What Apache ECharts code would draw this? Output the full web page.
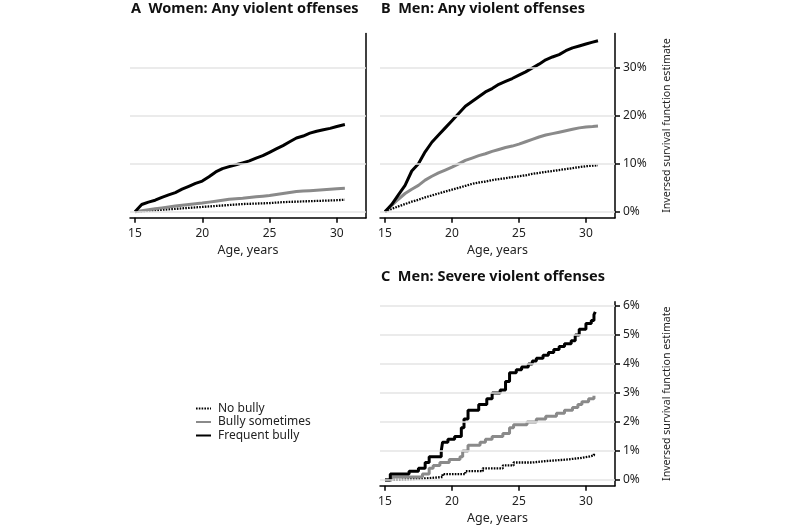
<!DOCTYPE html>
<html>
<head>
<meta charset="utf-8">
<script src="https://cdn.jsdelivr.net/npm/echarts@6/dist/echarts.min.js"></script>
<style>html,body{margin:0;padding:0;background:#fff}#c{width:800px;height:530px}</style>
</head>
<body>
<div id="c"></div>
<script>
// ---- Data (ages in years, values in %) ----
const xTicks = [15, 20, 25, 30];
const yTicksAB = [0, 10, 20, 30];
const yTicksC = [0, 1, 2, 3, 4, 5, 6];
const seriesNames = ['No bully', 'Bully sometimes', 'Frequent bully'];

// Panel A: Women, any violent offenses
const agesA = [15,15.5,16,16.5,17,17.5,18,18.5,19,19.5,20,20.5,21,21.5,22,22.5,23,23.5,24,24.5,25,25.5,26,26.5,27,27.5,28,28.5,29,29.5,30,30.6];
const aNoBully = [0,0.1,0.2,0.3,0.4,0.5,0.6,0.7,0.8,0.9,1.0,1.1,1.2,1.3,1.4,1.5,1.6,1.65,1.7,1.75,1.8,1.9,2.0,2.05,2.1,2.15,2.2,2.25,2.3,2.35,2.4,2.5];
const aSometimes = [0,0.2,0.4,0.6,0.8,1.0,1.2,1.35,1.5,1.65,1.8,2.0,2.2,2.4,2.6,2.7,2.8,2.95,3.1,3.25,3.4,3.6,3.8,4.0,4.2,4.3,4.4,4.5,4.6,4.7,4.8,4.9];
const aFrequent = [0,1.5,2.0,2.4,3.0,3.5,4.0,4.7,5.3,5.9,6.4,7.3,8.3,9.0,9.4,9.8,10.2,10.6,11.2,11.7,12.4,13.1,13.8,14.6,15.4,15.8,16.4,16.8,17.1,17.4,17.8,18.2];

// Panel B: Men, any violent offenses
const agesB = [15,15.5,16,16.5,17,17.5,18,18.5,19,19.5,20,20.5,21,21.5,22,22.5,23,23.5,24,24.5,25,25.5,26,26.5,27,27.5,28,28.5,29,29.5,30,30.5,30.9];
const bNoBully = [0,0.6,1.1,1.6,2.1,2.5,3.0,3.4,3.8,4.2,4.6,5.0,5.4,5.8,6.1,6.3,6.6,6.8,7.0,7.2,7.4,7.6,7.9,8.1,8.3,8.5,8.7,8.9,9.1,9.3,9.5,9.6,9.7];
const bSometimes = [0,1.3,2.6,3.8,4.7,5.5,6.6,7.4,8.1,8.7,9.3,10.0,10.7,11.2,11.7,12.1,12.6,13.0,13.4,13.7,14.1,14.6,15.1,15.6,16.0,16.3,16.6,16.9,17.2,17.5,17.7,17.8,17.9];
const bFrequent = [0,1.5,3.5,5.5,8.5,10.0,12.5,14.5,16.0,17.5,19.0,20.5,22.0,23.0,24.0,25.0,25.7,26.6,27.2,27.8,28.5,29.2,30.0,30.8,31.7,32.3,32.8,33.6,34.2,34.6,35.0,35.4,35.7];

// Panel C: Men, severe violent offenses (step changes)
const agesCNo = [15,16,18,19.3,21,22.3,23.8,24.6,26,27,28.5,29.5,30.2,30.6];
const cNoBully = [0,0.05,0.1,0.2,0.3,0.4,0.5,0.6,0.65,0.7,0.75,0.8,0.85,0.9];
const agesCSome = [15,15.5,17.8,18.3,18.6,19.1,19.8,20.6,20.8,21.2,22.1,22.5,23.0,23.8,24.3,24.6,25.6,26.3,27.0,27.8,28.4,29.0,29.4,29.7,30.2,30.6];
const cSometimes = [0,0.1,0.2,0.4,0.5,0.6,0.7,0.8,1.0,1.2,1.3,1.4,1.5,1.6,1.8,1.9,2.0,2.1,2.2,2.3,2.4,2.5,2.6,2.7,2.8,2.9];
const agesCFreq = [15,15.4,16.8,17.5,18.0,18.3,19.2,19.3,19.7,20.2,20.7,20.9,21.2,22.0,22.6,23.0,23.6,24.0,24.3,24.8,25.2,25.7,26.0,26.3,26.8,27.2,27.6,28.0,28.4,28.9,29.2,29.5,30.0,30.4,30.6,30.7];
const cFrequent = [0,0.2,0.3,0.4,0.6,0.8,1.0,1.3,1.4,1.5,1.8,2.1,2.4,2.6,2.8,3.0,3.1,3.4,3.7,3.8,3.9,4.0,4.1,4.2,4.3,4.4,4.5,4.6,4.7,4.8,5.0,5.2,5.4,5.5,5.7,5.8];

const titles = ['A  Women: Any violent offenses', 'B  Men: Any violent offenses', 'C  Men: Severe violent offenses'];
const yName = 'Inversed survival function estimate';
const xName = 'Age, years';

// ---- Build ----
const FONT = 'Noto Sans';
const zip = (xs, ys) => xs.map((x, i) => [x, ys[i]]);

const grids = [
  {left: 130, top: 33.5, width: 236, height: 184.2},
  {left: 380, top: 33.5, width: 235, height: 184.2},
  {left: 380, top: 301.7, width: 235, height: 184}
];

function xAxis(i) {
  return {
    gridIndex: i, type: 'value', min: 14.63, max: 32.17,
    axisLine: {show: true, onZero: false, lineStyle: {color: '#000', width: 1.5}},
    axisTick: {show: true, customValues: xTicks, length: 5, lineStyle: {color: '#000', width: 1.5}},
    axisLabel: {customValues: xTicks, fontSize: 12, color: '#222', margin: 10, fontFamily: FONT},
    splitLine: {show: false},
    name: xName, nameLocation: 'middle', nameGap: 26,
    nameTextStyle: {fontSize: 12.5, color: '#222', fontFamily: FONT}
  };
}
function yAxis(i, min, max, ticks, showLabels) {
  return {
    gridIndex: i, type: 'value', position: 'right', min: min, max: max,
    axisLine: {show: true, onZero: false, lineStyle: {color: '#000', width: 1.5}},
    axisTick: {show: showLabels, customValues: ticks, length: 5, lineStyle: {color: '#000', width: 1.5}},
    axisLabel: {show: showLabels, customValues: ticks, formatter: '{value}%', fontSize: 12, color: '#222', margin: 8, fontFamily: FONT},
    splitLine: {show: false},
    name: showLabels ? yName : '', nameLocation: 'middle', nameGap: 46, nameRotate: 90,
    nameTextStyle: {fontSize: 10.6, color: '#222', fontFamily: FONT}
  };
}

const styles = [
  {color: '#000', width: 2.3, type: [1.6, 1.2]},
  {color: '#8a8a8a', width: 3, type: 'solid'},
  {color: '#000', width: 3, type: 'solid'}
];

function gridSeries(i, ticks) {
  return {
    type: 'line', xAxisIndex: i, yAxisIndex: i, data: [], silent: true, z: 1,
    markLine: {
      silent: true, symbol: 'none', label: {show: false},
      lineStyle: {color: '#e4e4e4', width: 1.5, type: 'solid'},
      data: ticks.map(v => ({yAxis: v}))
    }
  };
}
function lineSeries(i, k, xs, ys, step) {
  return {
    type: 'line', name: seriesNames[k], xAxisIndex: i, yAxisIndex: i,
    data: zip(xs, ys), step: step, showSymbol: false, symbol: 'none',
    lineStyle: styles[k], itemStyle: {color: styles[k].color}, z: 2 + k, animation: false
  };
}

const option = {
  animation: false,
  backgroundColor: '#fff',
  title: titles.map((t, i) => ({
    text: t, left: [131, 381, 381][i], top: [1, 1, 269][i], padding: 0,
    textStyle: {fontSize: 14.5, fontWeight: 'bold', color: '#111', fontFamily: FONT}
  })),
  legend: {
    orient: 'vertical', left: 195, top: 402.5, itemWidth: 15, itemHeight: 10, itemGap: 1.5,
    data: seriesNames, selectedMode: false, padding: 0,
    itemStyle: {opacity: 0, borderWidth: 0},
    textStyle: {fontSize: 12, lineHeight: 12, color: '#222', fontFamily: FONT, padding: [0, 0, 0, 2]}
  },
  grid: grids,
  xAxis: [xAxis(0), xAxis(1), xAxis(2)],
  yAxis: [yAxis(0, -1.25, 37.2, yTicksAB, false), yAxis(1, -1.25, 37.2, yTicksAB, true), yAxis(2, -0.2, 6.15, yTicksC, true)],
  series: [
    gridSeries(0, yTicksAB), gridSeries(1, yTicksAB), gridSeries(2, yTicksC),
    lineSeries(0, 0, agesA, aNoBully, false), lineSeries(0, 1, agesA, aSometimes, false), lineSeries(0, 2, agesA, aFrequent, false),
    lineSeries(1, 0, agesB, bNoBully, false), lineSeries(1, 1, agesB, bSometimes, false), lineSeries(1, 2, agesB, bFrequent, false),
    lineSeries(2, 0, agesCNo, cNoBully, 'end'), lineSeries(2, 1, agesCSome, cSometimes, 'end'), lineSeries(2, 2, agesCFreq, cFrequent, 'end')
  ]
};
const chart = echarts.init(document.getElementById('c'), null, {renderer: 'canvas'});
chart.setOption(option);
</script>
</body>
</html>
